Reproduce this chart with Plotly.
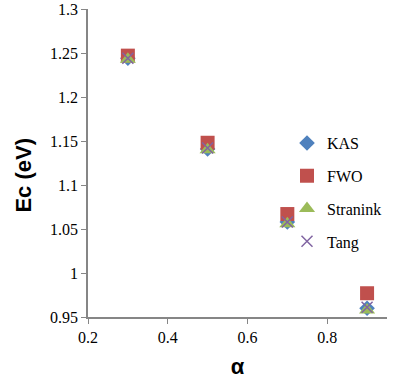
import plotly.graph_objects as go

alpha = [0.3, 0.5, 0.7, 0.9]
kas = [1.244, 1.141, 1.058, 0.960]
fwo = [1.247, 1.148, 1.067, 0.977]
stranink = [1.243, 1.140, 1.056, 0.958]
tang = [1.244, 1.142, 1.058, 0.961]

series = [
    ("KAS", kas, "diamond", "#4F81BD", 12),
    ("FWO", fwo, "square", "#C0504D", 14),
    ("Stranink", stranink, "triangle-up", "#9BBB59", 14),
    ("Tang", tang, "x-thin", "#8064A2", 11),
]

SERIF = "Liberation Serif, DejaVu Serif, serif"
SANS = "Liberation Sans, Arial, sans-serif"

fig = go.Figure()
for name, ys, sym, col, sz in series:
    fig.add_trace(go.Scatter(
        x=alpha, y=ys, mode="markers", name=name, legendgroup=name,
        marker=dict(symbol=sym, color=col, size=sz,
                    line=dict(color=col, width=1.5 if sym == "x-thin" else 0)),
    ))

axis_common = dict(
    showline=True, linecolor="#868686", linewidth=1.5,
    ticks="outside", tickcolor="#868686", ticklen=5,
    showgrid=False, zeroline=False, automargin=False,
    tickfont=dict(family=SERIF, size=16, color="black"),
)

fig.update_layout(
    width=400, height=384,
    margin=dict(l=88, r=13, t=9, b=67),
    paper_bgcolor="white", plot_bgcolor="white",
    font=dict(family=SERIF, size=16, color="black"),
    xaxis=dict(range=[0.2, 0.95], tickvals=[0.2, 0.4, 0.6, 0.8],
               ticktext=["0.2", "0.4", "0.6", "0.8"],
               title=dict(text="<b>α</b>", font=dict(family=SANS, size=22, color="black"), standoff=14),
               **axis_common),
    yaxis=dict(range=[0.95, 1.3], tickvals=[0.95, 1, 1.05, 1.1, 1.15, 1.2, 1.25, 1.3],
               ticktext=["0.95", "1", "1.05", "1.1", "1.15", "1.2", "1.25", "1.3"],
               **axis_common),
    annotations=[dict(text="<b>Ec (eV)</b>", xref="paper", yref="paper",
                      x=-0.265, y=0.46, textangle=-90, showarrow=False,
                      font=dict(family=SANS, size=22, color="black"))],
    legend=dict(x=1.0, y=0.62, xanchor="right", yanchor="top",
                font=dict(family=SERIF, size=16, color="black"),
                bgcolor="rgba(0,0,0,0)", itemwidth=30, tracegroupgap=9),
    showlegend=True,
)

fig.write_html("out.html", config={"displayModeBar": False},
               post_script="document.body.style.margin='0';")
